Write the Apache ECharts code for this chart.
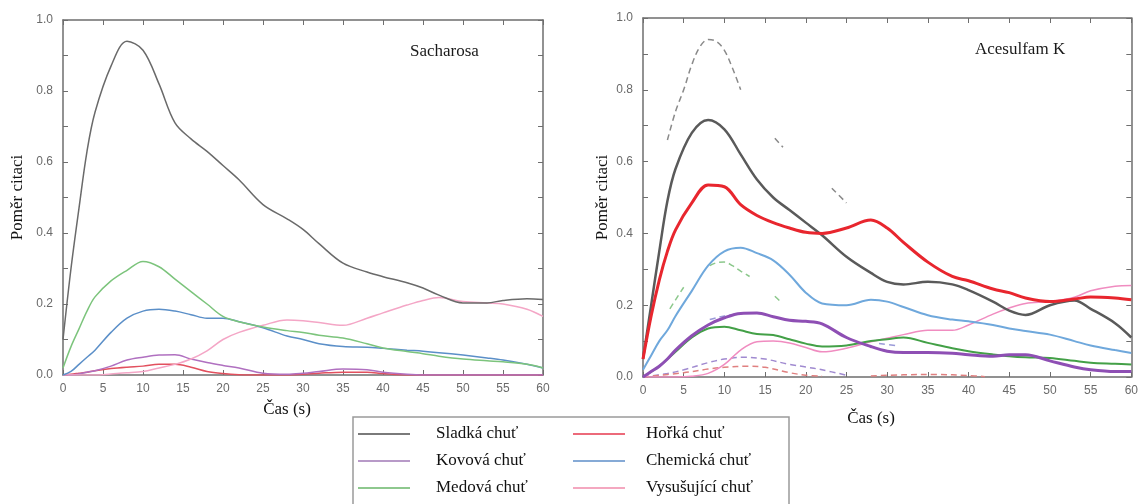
<!DOCTYPE html>
<html>
<head>
<meta charset="utf-8">
<script src="https://cdn.jsdelivr.net/npm/echarts@6/dist/echarts.min.js"></script>
<style>
  html, body { margin: 0; padding: 0; background: #fff; }
  #main { width: 1141px; height: 504px; }
</style>
</head>
<body>
<div id="main"></div>
<script>
// casy mereni (s)
var times = [0, 1, 2, 3, 4, 6, 8, 10, 12, 14, 16, 18, 20, 22, 25, 28, 30, 32, 35, 38, 40, 43, 45, 47, 50, 53, 55, 58, 60];

// Sacharosa
var sacSladka = [0.10, 0.30, 0.47, 0.63, 0.74, 0.87, 0.94, 0.915, 0.82, 0.71, 0.665, 0.63, 0.59, 0.55, 0.48, 0.44, 0.41, 0.37, 0.315, 0.29, 0.277, 0.26, 0.245, 0.225, 0.203, 0.203, 0.21, 0.215, 0.213];
var sacHorka = [0, 0.002, 0.005, 0.008, 0.012, 0.018, 0.022, 0.025, 0.03, 0.03, 0.022, 0.01, 0.004, 0.001, 0, 0, 0.002, 0.005, 0.008, 0.008, 0.004, 0, 0, 0, 0, 0, 0, 0, 0];
var sacKovova = [0, 0, 0.003, 0.008, 0.012, 0.025, 0.042, 0.05, 0.056, 0.057, 0.045, 0.035, 0.027, 0.02, 0.005, 0.002, 0.005, 0.01, 0.017, 0.015, 0.008, 0.002, 0, 0, 0, 0, 0, 0, 0];
var sacChem = [0, 0.01, 0.03, 0.05, 0.07, 0.12, 0.16, 0.18, 0.185, 0.18, 0.17, 0.16, 0.16, 0.15, 0.133, 0.11, 0.1, 0.088, 0.08, 0.078, 0.075, 0.07, 0.067, 0.063, 0.056, 0.048, 0.042, 0.03, 0.02];
var sacMed = [0.02, 0.08, 0.13, 0.18, 0.22, 0.265, 0.295, 0.32, 0.305, 0.27, 0.235, 0.2, 0.165, 0.15, 0.135, 0.125, 0.12, 0.112, 0.104, 0.088, 0.076, 0.066, 0.06, 0.053, 0.045, 0.04, 0.037, 0.03, 0.02];
var sacVys = [0, 0, 0, 0, 0, 0.003, 0.006, 0.01, 0.02, 0.03, 0.045, 0.068, 0.1, 0.12, 0.14, 0.155, 0.153, 0.148, 0.14, 0.16, 0.175, 0.197, 0.21, 0.218, 0.207, 0.203, 0.2, 0.185, 0.165];

// Acesulfam K
var aceSladka = [0.05, 0.2, 0.35, 0.49, 0.58, 0.68, 0.716, 0.69, 0.62, 0.55, 0.5, 0.465, 0.43, 0.395, 0.335, 0.29, 0.265, 0.258, 0.265, 0.258, 0.242, 0.21, 0.185, 0.173, 0.2, 0.213, 0.19, 0.15, 0.11];
var aceHorka = [0.05, 0.17, 0.27, 0.35, 0.41, 0.485, 0.535, 0.53, 0.48, 0.45, 0.43, 0.415, 0.403, 0.4, 0.415, 0.437, 0.415, 0.375, 0.32, 0.28, 0.268, 0.245, 0.235, 0.22, 0.21, 0.217, 0.223, 0.22, 0.215];
var aceKovova = [0, 0.015, 0.03, 0.05, 0.075, 0.115, 0.145, 0.165, 0.177, 0.178, 0.168, 0.158, 0.155, 0.148, 0.11, 0.085, 0.072, 0.068, 0.068, 0.066, 0.062, 0.058, 0.062, 0.062, 0.045, 0.028, 0.02, 0.015, 0.015];
var aceChem = [0.02, 0.06, 0.1, 0.13, 0.17, 0.24, 0.31, 0.35, 0.36, 0.345, 0.325, 0.285, 0.235, 0.205, 0.2, 0.215, 0.21, 0.195, 0.172, 0.16, 0.155, 0.145, 0.135, 0.128, 0.118, 0.1, 0.088, 0.075, 0.067];
var aceMed = [0, 0.015, 0.03, 0.05, 0.07, 0.11, 0.135, 0.14, 0.13, 0.12, 0.117, 0.105, 0.093, 0.085, 0.088, 0.1, 0.105, 0.11, 0.095, 0.08, 0.072, 0.063, 0.058, 0.055, 0.053, 0.045, 0.04, 0.037, 0.035];
var aceVys = [0, 0, 0, 0, 0, 0.002, 0.01, 0.035, 0.075, 0.098, 0.1, 0.095, 0.082, 0.07, 0.08, 0.098, 0.108, 0.118, 0.13, 0.13, 0.145, 0.175, 0.192, 0.205, 0.21, 0.222, 0.24, 0.253, 0.255];

// prerusovane krivky v grafu Acesulfam K (null = mezera)
var dashSladkaT = [3, 4, 5, 6, 7, 8, 9, 10, 11, 12, 14, 16.2, 17.2, 20, 23.2, 25];
var dashSladkaV = [0.66, 0.74, 0.8, 0.87, 0.92, 0.94, 0.935, 0.91, 0.86, 0.8, null, 0.665, 0.64, null, 0.526, 0.485];
var dashMedT = [3.3, 4, 5, 7, 8.2, 9, 10, 11, 12, 13.1, 15, 16.2, 16.8];
var dashMedV = [0.19, 0.215, 0.25, null, 0.31, 0.318, 0.32, 0.31, 0.295, 0.28, null, 0.225, 0.212];
var dashChemT = [8.2, 9, 10, 11.5, 20, 29, 31];
var dashChemV = [0.16, 0.165, 0.17, 0.175, null, 0.093, 0.088];
var dashKovT = [0, 3, 5, 8, 10, 12.5, 15, 18, 20, 22, 25];
var dashKovV = [0, 0.01, 0.02, 0.04, 0.05, 0.055, 0.05, 0.035, 0.028, 0.02, 0.005];
var dashHorT = [0, 5, 8, 10, 13, 15, 18, 20, 22, 25, 28, 32, 36, 40, 42];
var dashHorV = [0, 0.012, 0.022, 0.027, 0.03, 0.027, 0.012, 0.005, 0.002, null, 0.003, 0.006, 0.007, 0.004, 0.001];

var yTicks = ['0.0', '0.2', '0.4', '0.6', '0.8', '1.0'];

var axisColor = '#6e6e6e';
var serif = 'Liberation Serif';

function pairs(t, v) {
  return t.map(function (x, i) { return [x, v[i]]; });
}

function line(name, t, v, color, width, gi, dashed) {
  return {
    name: name,
    type: 'line',
    xAxisIndex: gi * 2,
    yAxisIndex: gi * 2,
    data: pairs(t, v),
    smooth: 0.35,
    symbol: 'none',
    connectNulls: false,
    lineStyle: { color: color, width: width, type: dashed ? [6, 4] : 'solid' },
    itemStyle: { color: color },
    emphasis: { disabled: true }
  };
}

function xAx(gi, pos) {
  return {
    type: 'value', gridIndex: gi, position: pos,
    min: 0, max: 60, interval: 5,
    axisLine: { show: true, onZero: false, lineStyle: { color: axisColor, width: 1.5 } },
    axisTick: { show: true, inside: true, length: 5, lineStyle: { color: axisColor } },
    axisLabel: { show: pos === 'bottom', color: '#6a6a6a', fontSize: 12, margin: 8, fontFamily: 'Liberation Sans' },
    splitLine: { show: false }
  };
}

function yAx(gi, pos, gap) {
  return {
    type: 'value', gridIndex: gi, position: pos,
    min: 0, max: 1, interval: 0.1,
    name: pos === 'left' ? 'Poměr citaci' : '',
    nameLocation: 'middle',
    nameGap: gap,
    nameTextStyle: { fontFamily: serif, fontSize: 17, color: '#111' },
    axisLine: { show: true, onZero: false, lineStyle: { color: axisColor, width: 1.5 } },
    axisTick: { show: true, inside: true, length: 5, lineStyle: { color: axisColor } },
    axisLabel: {
      show: pos === 'left', color: '#6a6a6a', fontSize: 12, margin: 10, fontFamily: 'Liberation Sans',
      formatter: function (v) {
        var s = v.toFixed(1);
        return yTicks.indexOf(s) >= 0 ? s : '';
      }
    },
    splitLine: { show: false }
  };
}

function legendCol(left, pad, items) {
  return {
    left: left, top: 424, height: 100, padding: 0,
    orient: 'vertical', itemGap: 7,
    icon: 'rect', itemWidth: 52, itemHeight: 2,
    selectedMode: false,
    textStyle: { fontFamily: serif, fontSize: 17, color: '#111', lineHeight: 20, padding: [0, 0, 0, pad] },
    data: items
  };
}

var myChart = echarts.init(document.getElementById('main'));

myChart.setOption({
  backgroundColor: '#fff',
  animation: false,
  grid: [
    { left: 63, top: 20, width: 480, height: 355 },
    { left: 643, top: 18, width: 489, height: 359 }
  ],
  xAxis: [xAx(0, 'bottom'), xAx(0, 'top'), xAx(1, 'bottom'), xAx(1, 'top')],
  yAxis: [yAx(0, 'left', 37), yAx(0, 'right', 0), yAx(1, 'left', 32), yAx(1, 'right', 0)],
  legend: [
    legendCol(358, 21, [
      { name: 'Sladká chuť', itemStyle: { color: '#7a7a7a' } },
      { name: 'Kovová chuť', itemStyle: { color: '#b89ac8' } },
      { name: 'Medová chuť', itemStyle: { color: '#8ec88e' } }
    ]),
    legendCol(573, 16, [
      { name: 'Hořká chuť', itemStyle: { color: '#ec6a7a' } },
      { name: 'Chemická chuť', itemStyle: { color: '#86aad6' } },
      { name: 'Vysušující chuť', itemStyle: { color: '#f4a8c0' } }
    ])
  ],
  graphic: [
    { type: 'rect', shape: { x: 353, y: 417, width: 436, height: 100 }, style: { fill: 'none', stroke: '#9a9a9a', lineWidth: 1.5 } },
    { type: 'text', x: 410, y: 52, style: { text: 'Sacharosa', font: '17px "Liberation Serif"', fill: '#1a1a1a', textVerticalAlign: 'middle' } },
    { type: 'text', x: 975, y: 50, style: { text: 'Acesulfam K', font: '17px "Liberation Serif"', fill: '#1a1a1a', textVerticalAlign: 'middle' } },
    { type: 'text', x: 287, y: 410, style: { text: 'Čas (s)', font: '17px "Liberation Serif"', fill: '#111', textAlign: 'center', textVerticalAlign: 'middle' } },
    { type: 'text', x: 871, y: 419, style: { text: 'Čas (s)', font: '17px "Liberation Serif"', fill: '#111', textAlign: 'center', textVerticalAlign: 'middle' } }
  ],
  series: [
    // Sacharosa
    line('Hořká chuť', times, sacHorka, '#e2505e', 1.5, 0),
    line('Kovová chuť', times, sacKovova, '#b070c0', 1.5, 0),
    line('Vysušující chuť', times, sacVys, '#f4a6c6', 1.5, 0),
    line('Chemická chuť', times, sacChem, '#5b8fc8', 1.5, 0),
    line('Medová chuť', times, sacMed, '#7cc47c', 1.5, 0),
    line('Sladká chuť', times, sacSladka, '#6a6a6a', 1.5, 0),
    // Acesulfam K - prerusovane
    line('Sacharosa sladká', dashSladkaT, dashSladkaV, '#8a8a8a', 1.5, 1, true),
    line('Sacharosa medová', dashMedT, dashMedV, '#8cc88c', 1.5, 1, true),
    line('Sacharosa chemická', dashChemT, dashChemV, '#9a9ad8', 1.5, 1, true),
    line('Sacharosa kovová', dashKovT, dashKovV, '#a08ad0', 1.5, 1, true),
    line('Sacharosa hořká', dashHorT, dashHorV, '#e08080', 1.5, 1, true),
    // Acesulfam K
    line('Vysušující chuť', times, aceVys, '#f08cc0', 1.5, 1),
    line('Medová chuť', times, aceMed, '#43a047', 2, 1),
    line('Kovová chuť', times, aceKovova, '#8e4fb4', 3, 1),
    line('Chemická chuť', times, aceChem, '#6fa8dc', 2, 1),
    line('Sladká chuť', times, aceSladka, '#5a5a5a', 2.5, 1),
    line('Hořká chuť', times, aceHorka, '#e8262e', 3, 1)
  ]
});

window.addEventListener('resize', function () {
  myChart.resize();
});
</script>
</body>
</html>
